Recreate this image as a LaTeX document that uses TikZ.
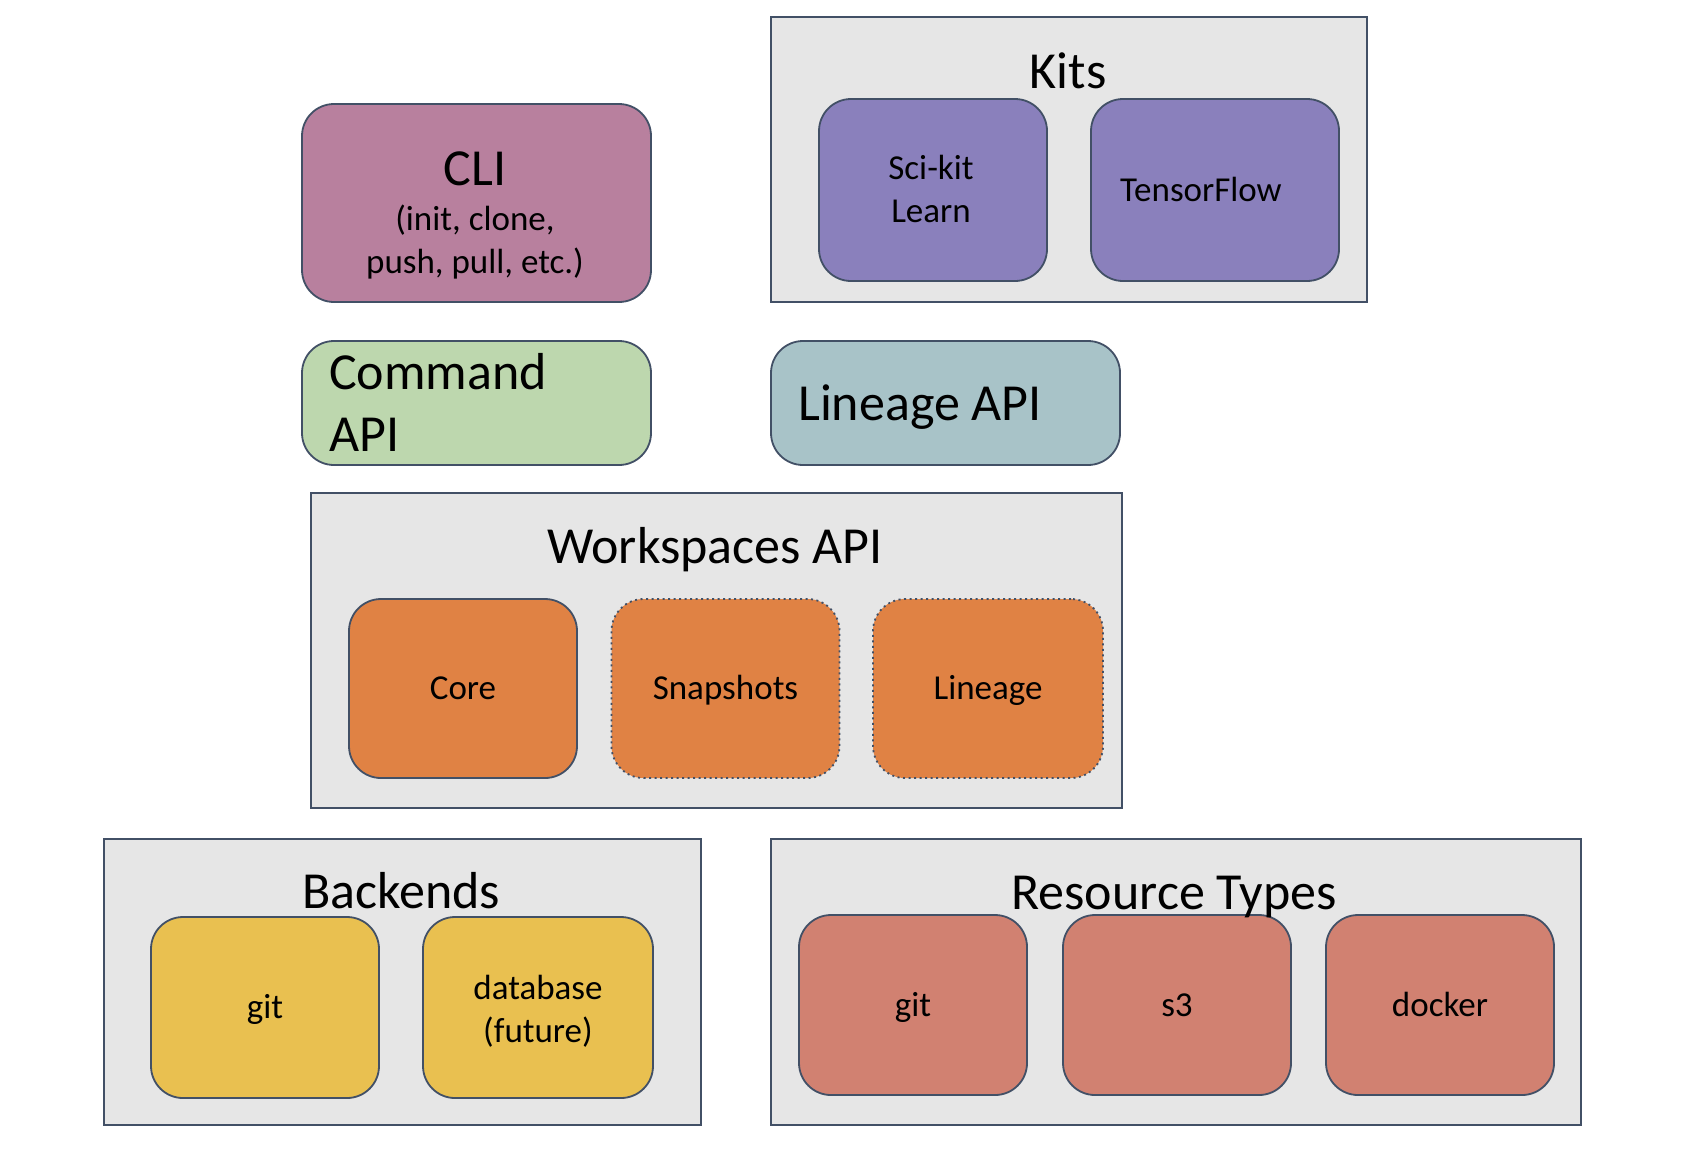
\documentclass[tikz,border=0pt]{standalone}
\usepackage{fontspec}
\setmainfont{Carlito}
\definecolor{bordercol}{RGB}{66,80,102}
\definecolor{greyfill}{RGB}{230,230,230}
\definecolor{clicol}{RGB}{184,128,158}
\definecolor{kitcol}{RGB}{138,128,188}
\definecolor{cmdcol}{RGB}{189,215,174}
\definecolor{lincol}{RGB}{168,195,200}
\definecolor{orgcol}{RGB}{224,130,68}
\definecolor{yelcol}{RGB}{233,192,80}
\definecolor{redcol}{RGB}{209,129,113}
\newcommand{\bigtxt}{\fontsize{52}{62}\selectfont}
\newcommand{\smalltxt}{\fontsize{35}{43}\selectfont}
\tikzset{
  container/.style={draw=bordercol, line width=2pt, fill=greyfill, rectangle, inner sep=0pt},
  rbox/.style={draw=bordercol, line width=1.8pt, rounded corners=32pt, inner sep=0pt, align=center, font=\smalltxt, text height=22pt, text depth=0pt},
  dotbox/.style={rbox, dash pattern=on 2pt off 3.5pt},
  title/.style={font=\bigtxt, inner sep=0pt},
  boxtext/.style={font=\smalltxt, align=center, inner sep=0pt},
}
\begin{document}
\begin{tikzpicture}[x=1pt,y=-1pt]
\useasboundingbox (0,0) rectangle (1688,1152);
\fill[white] (0,0) rectangle (1688,1152);

% Kits
\node[container, minimum width=596pt, minimum height=285pt] (kits) at (1069,159.5) {};
\node[title] (kitst) at (1068,71) {Kits};
\node[rbox, fill=kitcol, minimum width=228pt, minimum height=182pt] (scikit) at (933,190) {};
\node[boxtext] (scikitt) at (931,189) {Sci-kit\\Learn};
\node[rbox, fill=kitcol, minimum width=248pt, minimum height=182pt] (tf) at (1215,190) {};
\node[boxtext] (tft) at (1201,189) {TensorFlow};

% CLI
\node[rbox, fill=clicol, minimum width=349pt, minimum height=198pt] (cli) at (476.5,203) {};
\node[title] (clit) at (475,169) {CLI};
\node[boxtext] (clisub) at (475,242) {(init, clone,\\push, pull, etc.)};

% Command API / Lineage API
\node[rbox, fill=cmdcol, minimum width=349pt, minimum height=124pt] (cmd) at (476.5,403) {};
\node[font=\bigtxt, align=left, inner sep=0pt, anchor=west] (cmdt) at (329,402) {Command\\API};
\node[rbox, fill=lincol, minimum width=349pt, minimum height=124pt] (linapi) at (945.5,403) {};
\node[title, anchor=west] (linapit) at (798,407) {Lineage API};

% Workspaces API
\node[container, minimum width=811pt, minimum height=315pt] (ws) at (716.5,650.5) {};
\node[title] (wst) at (715,550) {Workspaces API};
\node[rbox, fill=orgcol, minimum width=228pt, minimum height=179pt] (core) at (463,688.5) {Core};
\node[dotbox, fill=orgcol, minimum width=228pt, minimum height=179pt] (snap) at (725.5,688.5) {Snapshots};
\node[dotbox, fill=orgcol, minimum width=230pt, minimum height=179pt] (lin) at (988,688.5) {Lineage};

% Backends
\node[container, minimum width=597pt, minimum height=286pt] (back) at (402.5,982) {};
\node[rbox, fill=yelcol, minimum width=228pt, minimum height=181pt] (bgit) at (265,1007.5) {git};
\node[rbox, fill=yelcol, minimum width=230pt, minimum height=181pt] (bdb) at (538,1007.5) {};
\node[boxtext] (bdbt) at (538,1011.5) {database\\(future)};
\node[title] (backt) at (401,891) {Backends};

% Resource Types
\node[container, minimum width=810pt, minimum height=286pt] (res) at (1176,982) {};
\node[rbox, fill=redcol, minimum width=228pt, minimum height=180pt] (rgit) at (913,1005) {git};
\node[rbox, fill=redcol, minimum width=228pt, minimum height=180pt] (rs3) at (1177,1005) {s3};
\node[rbox, fill=redcol, minimum width=228pt, minimum height=180pt] (rdock) at (1440,1005) {docker};
\node[title] (rest) at (1174,897) {Resource Types};
\end{tikzpicture}
\end{document}
